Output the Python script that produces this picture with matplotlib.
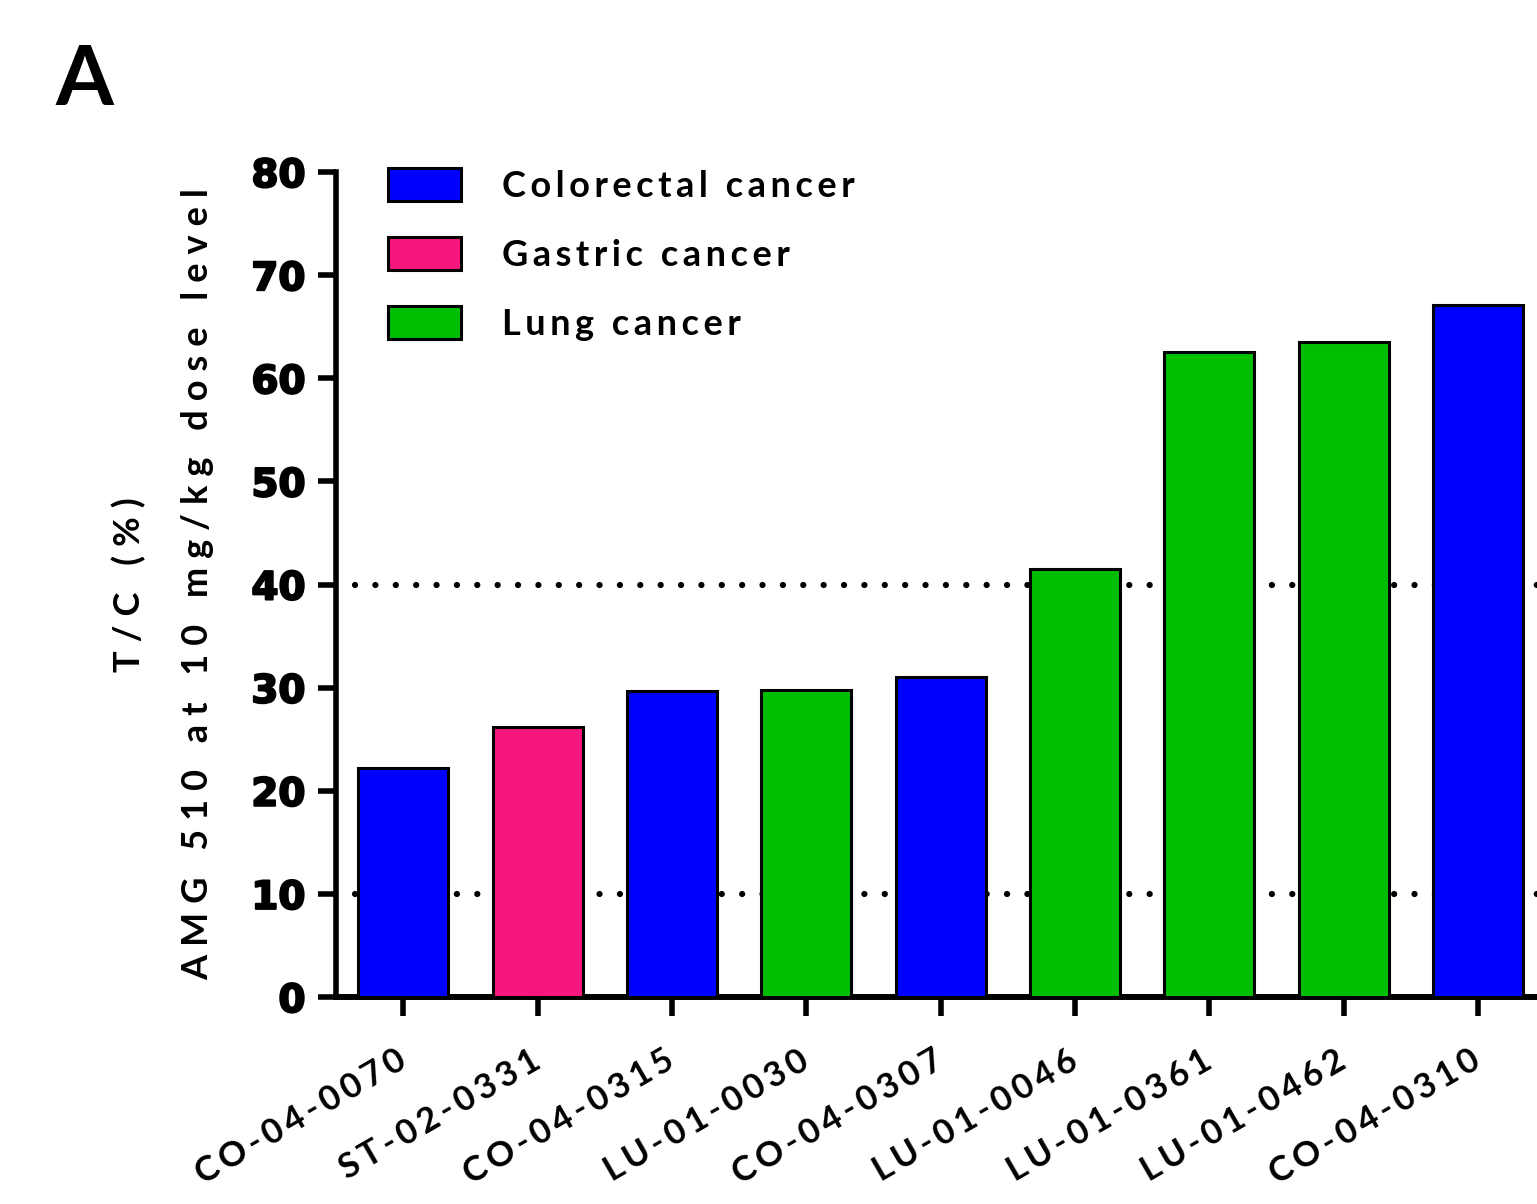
import matplotlib
matplotlib.use("Agg")
import matplotlib.pyplot as plt
from matplotlib.transforms import ScaledTranslation
import matplotlib.patheffects as pe

# ---- data ----
models = ["CO-04-0070", "ST-02-0331", "CO-04-0315", "LU-01-0030", "CO-04-0307",
          "LU-01-0046", "LU-01-0361", "LU-01-0462", "CO-04-0310"]
tc_values = [22.2, 26.2, 29.7, 29.8, 31.0, 41.5, 62.5, 63.5, 67.1]
cancer_type = ["Colorectal cancer", "Gastric cancer", "Colorectal cancer", "Lung cancer",
               "Colorectal cancer", "Lung cancer", "Lung cancer", "Lung cancer",
               "Colorectal cancer"]
categories = ["Colorectal cancer", "Gastric cancer", "Lung cancer"]
cat_colors = {"Colorectal cancer": "#0000FF", "Gastric cancer": "#F5177E", "Lung cancer": "#00BE00"}
yticks = [0, 10, 20, 30, 40, 50, 60, 70, 80]
ref_lines = [10, 40]
ylabel_lines = ["T/C (%)", "AMG 510 at 10 mg/kg dose level"]

def track(s, sp):
    return sp.join(s)

FONT = ["Lato", "DejaVu Sans"]

fig = plt.figure(figsize=(15.37, 12.04), dpi=100)
ax = fig.add_axes([336/1537, 1-997/1204, 1-336/1537, (997-172)/1204])

x = list(range(len(models)))
for cat in categories:
    idx = [i for i, c in enumerate(cancer_type) if c == cat]
    ax.bar([x[i] for i in idx], [tc_values[i] for i in idx], width=0.67,
           color=cat_colors[cat], edgecolor="black", linewidth=2.2,
           label=track(cat, "\u2009"), zorder=3)

for r in ref_lines:
    ax.plot([-0.36, 8.6], [r, r], color="black", linewidth=4.5,
            linestyle=(0, (0.01, 3.25)), dash_capstyle="round", zorder=1)

ax.set_xlim(-0.5, 8.44)
ax.set_ylim(0, 80)
ax.set_yticks(yticks)
ax.set_yticklabels([str(v) for v in yticks], fontsize=28, fontweight="heavy",
                   family="DejaVu Sans")
for t in ax.get_yticklabels():
    t.set_path_effects([pe.withStroke(linewidth=1.5, foreground="black")])
    t.set_transform(t.get_transform() + ScaledTranslation(0, -6/100, fig.dpi_scale_trans))

ax.set_xticks(x)
ax.set_xticklabels([track(m, "\u2009") for m in models], rotation=30, ha="right", va="center",
                   rotation_mode="anchor", fontsize=25, fontweight="bold", family=FONT)
for t in ax.get_xticklabels():
    t.set_transform(t.get_transform() + ScaledTranslation(9/100, 0, fig.dpi_scale_trans))

ax.tick_params(axis="y", length=13, width=4, pad=9, direction="out")
ax.tick_params(axis="x", length=14, width=4, pad=30, direction="out")
for s in ["top", "right"]:
    ax.spines[s].set_visible(False)
ax.spines["left"].set_linewidth(4)
ax.spines["bottom"].set_linewidth(4.3)

ax.set_ylabel("\n".join(track(l, "\u2005") for l in ylabel_lines), fontsize=26,
              fontweight="bold", family=FONT, linespacing=2.3)
ax.yaxis.set_label_coords((214-336)/1201, 0.5)

leg = ax.legend(loc="upper left", bbox_to_anchor=(388/1537, 1-168/1204),
                bbox_transform=fig.transFigure, frameon=False, borderpad=0,
                borderaxespad=0, handlelength=2.02, handleheight=1.03,
                handletextpad=1.13, labelspacing=0.95,
                prop={"family": FONT, "weight": "bold", "size": 26})

fig.text(55/1537, 1-105/1204, "A", fontsize=60, fontweight="bold", family=FONT,
         va="baseline", ha="left")

fig.savefig("out.png", dpi=100)
